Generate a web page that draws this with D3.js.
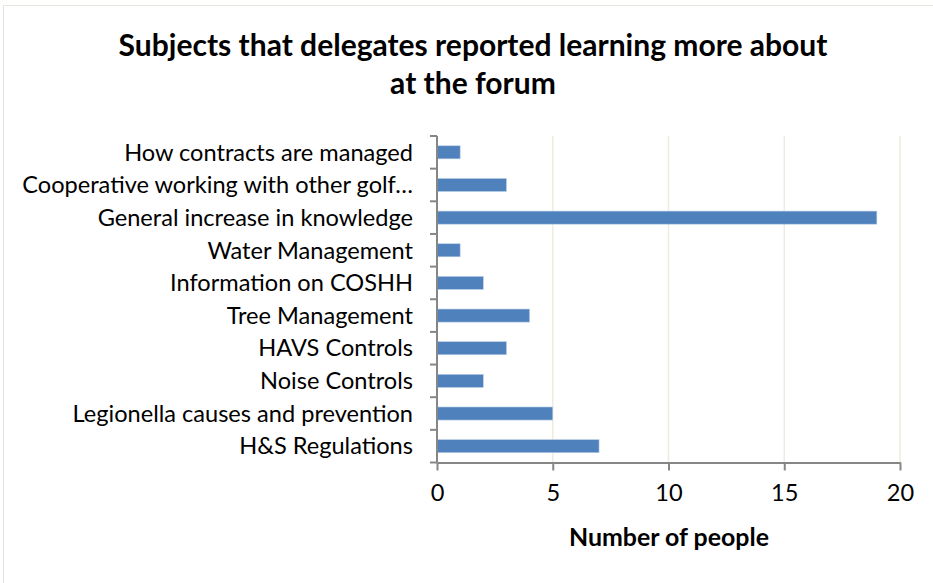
<!DOCTYPE html>
<html><head><meta charset="utf-8">
<script src="https://cdn.jsdelivr.net/npm/d3@7"></script>
<style>body{margin:0;background:#fff;} svg{display:block;}</style>
</head><body>
<svg id="c" width="933" height="583"></svg>
<script>
const categories = ["How contracts are managed","Cooperative working with other golf…","General increase in knowledge","Water Management","Information on COSHH","Tree Management","HAVS Controls","Noise Controls","Legionella causes and prevention","H&S Regulations"];
const values = [1,3,19,1,2,4,3,2,5,7];
const xTicks = [0,5,10,15,20];
const titleLines = ["Subjects that delegates reported learning more about","at the forum"];
const xTitle = "Number of people";

const FONT = "Lato, 'Open Sans', sans-serif";
const svg = d3.select("#c");
svg.append("rect").attr("x",3.5).attr("y",5.5).attr("width",940).attr("height",590)
  .attr("fill","#fff").attr("stroke","#e6e4dc").attr("stroke-width",1);

const x = d3.scaleLinear().domain([0,20]).range([437,900]);
const y = d3.scaleBand().domain(categories).range([136,462.5]).paddingInner(0).paddingOuter(0);
const barH = y.bandwidth()/2.5;

function fitSize(text, weight, target, base){
  const t = svg.append("text").attr("font-family",FONT).attr("font-weight",weight).attr("font-size",base).text(text);
  const w = t.node().getComputedTextLength(); t.remove();
  return base*target/w;
}
const labelSize = fitSize(categories[1], "normal", 391, 20);
const titleSize = fitSize(titleLines[0], "bold", 709, 26);
const axTitleSize = fitSize(xTitle, "bold", 200, 20);

// gridlines
svg.append("g").selectAll("line").data(xTicks.filter(d=>d>0)).join("line")
  .attr("x1",d=>x(d)).attr("x2",d=>x(d)).attr("y1",136).attr("y2",462.5)
  .attr("stroke","#eeece1").attr("stroke-width",1.5);

// bars
svg.append("g").selectAll("rect").data(values).join("rect")
  .attr("x",x(0)).attr("y",(d,i)=>y(categories[i])+(y.bandwidth()-barH)/2)
  .attr("width",d=>x(d)-x(0)).attr("height",barH)
  .attr("fill","#4f81bd").attr("stroke","#b9cde5").attr("stroke-width",0.6);

// x axis
const xa = svg.append("g").attr("transform","translate(0,462.5)")
  .call(d3.axisBottom(x).tickValues(xTicks).tickSize(8).tickSizeOuter(0).tickPadding(14));
xa.select(".domain").attr("stroke","#868686").attr("stroke-width",2);
xa.selectAll(".tick line").attr("stroke","#868686").attr("stroke-width",2);
xa.selectAll(".tick text").attr("font-family",FONT).attr("font-size",labelSize).attr("fill","#000");

// y axis
const ya = svg.append("g").attr("transform","translate(437,0)");
ya.append("line").attr("x1",0).attr("x2",0).attr("y1",136).attr("y2",462.5).attr("stroke","#868686").attr("stroke-width",2);
const bounds = categories.map(c=>y(c)).concat([462.5]);
ya.selectAll("line.t").data(bounds).join("line").attr("class","t")
  .attr("x1",-7).attr("x2",0).attr("y1",d=>d).attr("y2",d=>d).attr("stroke","#868686").attr("stroke-width",2);
ya.selectAll("text").data(categories).join("text")
  .attr("x",-24).attr("y",d=>y(d)+y.bandwidth()/2).attr("dy","0.35em")
  .attr("text-anchor","end").attr("font-family",FONT).attr("font-size",labelSize).attr("fill","#000").text(d=>d);

// title
svg.append("g").selectAll("text").data(titleLines).join("text")
  .attr("x",473).attr("y",(d,i)=>56+i*38).attr("text-anchor","middle")
  .attr("font-family",FONT).attr("font-weight","bold").attr("font-size",titleSize).attr("fill","#000").text(d=>d);

svg.append("text").attr("x",669).attr("y",546).attr("text-anchor","middle")
  .attr("font-family",FONT).attr("font-weight","bold").attr("font-size",axTitleSize).attr("fill","#000").text(xTitle);
</script>
</body></html>
